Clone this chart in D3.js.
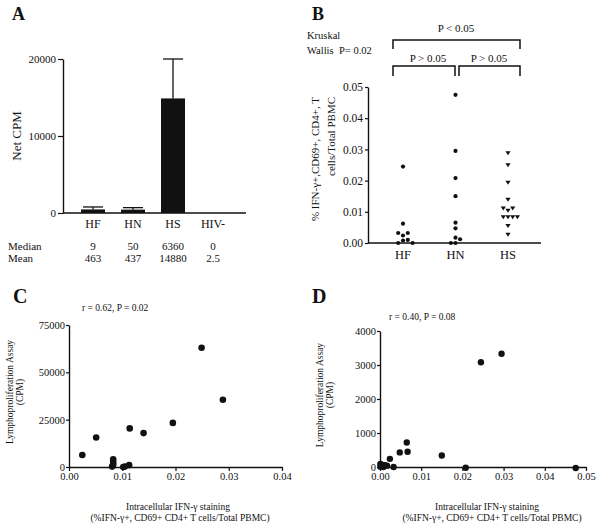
<!DOCTYPE html>
<html><head><meta charset="utf-8">
<script src="https://cdn.jsdelivr.net/npm/d3@7"></script>
<style>
body{margin:0;background:#fff}
svg{display:block}
text{font-family:"Liberation Serif","Times New Roman",serif;fill:#111}
</style>
</head><body>
<svg id="chart" width="598" height="528"></svg>
<script>
// ---------- Panel A data ----------
const aCats = ["HF", "HN", "HS", "HIV-"];
const aMeans = [463, 437, 14880, 2.5];
const aSEM = [320, 260, 5120, 0];
const aMedianLabels = ["9", "50", "6360", "0"];
const aMeanLabels = ["463", "437", "14880", "2.5"];
const aYTicks = [0, 10000, 20000];

// ---------- Panel B data ----------
const bGroups = ["HF", "HN", "HS"];
const bHF = [0.0245, 0.0062, 0.0024, 0.0032, 0.0032, 0.0008, 0.001, 0, 0];
const bHN = [0.0475, 0.0295, 0.0208, 0.015, 0.0065, 0.0047, 0.0017, 0.0012, 0, 0];
const bHS = [0.0288, 0.025, 0.0194, 0.0139, 0.0104, 0.0111, 0.0111, 0.0083, 0.0083, 0.0083, 0.0083, 0.0055, 0.0027];
const bYTicks = [0, 0.01, 0.02, 0.03, 0.04, 0.05];

// ---------- Panel C data ----------
const cIFN = [0.0025, 0.0051, 0.0114, 0.014, 0.0195, 0.0249, 0.0289, 0.0083, 0.0083, 0.0083, 0.0081, 0.0102, 0.0105, 0.0113];
const cCPM = [6300, 15600, 20400, 17900, 23300, 63000, 35500, 4100, 2600, 1300, 200, 0, 300, 1000];
const cXTicks = [0, 0.01, 0.02, 0.03, 0.04];
const cYTicks = [0, 25000, 50000, 75000];

// ---------- Panel D data ----------
const dIFN = [0.0295, 0.0245, 0.0065, 0.0048, 0.0067, 0.0024, 0.0033, 0.015, 0.0208, 0.0475, 0.0001, 0.0001, 0.0006, 0.0009, 0.0012, 0.0017, 0.0008, 0.0003];
const dCPM = [3330, 3080, 720, 430, 450, 240, 0, 340, -20, -30, 90, 10, 60, 20, 50, 40, 0, 30];
const dXTicks = [0, 0.01, 0.02, 0.03, 0.04, 0.05];
const dYTicks = [0, 1000, 2000, 3000, 4000];

const svg = d3.select("#chart");
const INK = "#111";

function styleAxis(g, fs) {
  g.attr("font-family", null).attr("font-size", fs);
  g.select(".domain").attr("stroke", INK).attr("stroke-width", 1.4);
  g.selectAll(".tick line").attr("stroke", INK).attr("stroke-width", 1.2);
  g.selectAll(".tick text").attr("fill", INK);
}
function label(x, y, t, fs, opts = {}) {
  const el = svg.append("text").attr("x", x).attr("y", y).attr("font-size", fs).text(t);
  if (opts.anchor) el.attr("text-anchor", opts.anchor);
  if (opts.bold) el.attr("font-weight", "bold");
  if (opts.rotate) el.attr("transform", `rotate(-90,${x},${y})`);
  return el;
}

// =============== Panel A ===============
label(12, 20, "A", 18, {bold: true});
const xA = d3.scaleBand().domain(aCats).range([73, 233]).paddingInner(0.4).paddingOuter(0.2);
const yA = d3.scaleLinear().domain([0, 20000]).range([213, 59]);
svg.append("g").attr("transform", "translate(63,0)")
  .call(d3.axisLeft(yA).tickValues(aYTicks).tickFormat(d3.format("d")).tickSize(5).tickSizeOuter(0).tickPadding(2))
  .call(g => styleAxis(g, 11));
svg.append("line").attr("x1", 63).attr("x2", 246).attr("y1", yA(0)).attr("y2", yA(0))
  .attr("stroke", INK).attr("stroke-width", 1.4);
const aData = aCats.map((c, i) => ({c, m: aMeans[i], e: aSEM[i]}));
svg.append("g").selectAll("rect").data(aData).join("rect")
  .attr("x", d => xA(d.c)).attr("width", xA.bandwidth())
  .attr("y", d => yA(d.m)).attr("height", d => yA(0) - yA(d.m))
  .attr("fill", INK);
const errG = svg.append("g").attr("stroke", INK).attr("stroke-width", 1.3);
aData.filter(d => d.e > 0).forEach(d => {
  const cx = xA(d.c) + xA.bandwidth() / 2;
  errG.append("line").attr("x1", cx).attr("x2", cx).attr("y1", yA(d.m)).attr("y2", yA(d.m + d.e));
  errG.append("line").attr("x1", cx - 10).attr("x2", cx + 10).attr("y1", yA(d.m + d.e)).attr("y2", yA(d.m + d.e));
});
aCats.forEach((c, i) => {
  const cx = xA(c) + xA.bandwidth() / 2;
  label(cx, 228, c, 12, {anchor: "middle"});
  label(cx, 250, aMedianLabels[i], 11, {anchor: "middle"});
  label(cx, 262, aMeanLabels[i], 11, {anchor: "middle"});
});
label(8, 250, "Median", 11);
label(8, 262, "Mean", 11);
label(21, 136, "Net CPM", 13, {anchor: "middle", rotate: true});

// =============== Panel B ===============
label(312, 20, "B", 18, {bold: true});
const xB = d3.scalePoint().domain(bGroups).range([403, 508]);
const yB = d3.scaleLinear().domain([0, 0.05]).range([243, 87]);
svg.append("g").attr("transform", "translate(368,0)")
  .call(d3.axisLeft(yB).tickValues(bYTicks).tickFormat(d3.format(".2f")).tickSize(3).tickSizeOuter(0).tickPadding(2))
  .call(g => styleAxis(g, 11.5));
svg.append("line").attr("x1", 368).attr("x2", 541).attr("y1", yB(0)).attr("y2", yB(0))
  .attr("stroke", INK).attr("stroke-width", 1.4);
bGroups.forEach(gname => label(xB(gname), 259, gname, 12.5, {anchor: "middle"}));

// dodge layout for dot plot
function dodge(values, cx, step) {
  const placed = [];
  const offs = [0, step, -step, 2 * step, -2 * step, 3 * step, -3 * step];
  values.forEach(v => {
    const y = yB(v);
    for (const o of offs) {
      const x = cx + o;
      if (placed.every(p => Math.hypot(p.x - x, p.y - y) >= step * 0.95)) { placed.push({x, y, v}); break; }
    }
  });
  return placed;
}
const dotsHF = dodge(bHF, xB("HF"), 4.8);
const dotsHN = dodge(bHN, xB("HN"), 4.6);
const dotsHS = dodge(bHS, xB("HS"), 4.7);
svg.append("g").selectAll("circle").data(dotsHF.concat(dotsHN)).join("circle")
  .attr("cx", d => d.x).attr("cy", d => d.y).attr("r", 2.1).attr("fill", INK);
svg.append("g").selectAll("path").data(dotsHS).join("path")
  .attr("d", d => `M${d.x - 2.6},${d.y - 1.8}L${d.x + 2.6},${d.y - 1.8}L${d.x},${d.y + 2.2}Z`)
  .attr("fill", INK);

// brackets
const br = svg.append("g").attr("stroke", INK).attr("stroke-width", 1.5).attr("fill", "none");
br.append("path").attr("d", "M393,49V40H520V49");
br.append("path").attr("d", "M393,76V66H455V76");
br.append("path").attr("d", "M459,76V66H520V76");
label(456, 32, "P < 0.05", 11, {anchor: "middle"});
label(428, 62, "P > 0.05", 11, {anchor: "middle"});
label(489, 62, "P > 0.05", 11, {anchor: "middle"});
label(307, 39, "Kruskal", 10.5);
label(307, 54, "Wallis", 10.5);
label(339, 54, "P= 0.02", 10.5);
label(319, 97, "% IFN-\u03B3+,CD69+, CD4+, T", 11, {anchor: "end", rotate: true});
label(335, 97, "cells/Total PBMC", 11, {anchor: "end", rotate: true});

// =============== Panel C ===============
label(13, 303, "C", 20, {bold: true});
const xC = d3.scaleLinear().domain([0, 0.04]).range([69, 282]);
const yC = d3.scaleLinear().domain([0, 75000]).range([467, 325]);
svg.append("g").attr("transform", "translate(69,0)")
  .call(d3.axisLeft(yC).tickValues(cYTicks).tickFormat(d3.format("d")).tickSize(3).tickSizeOuter(0).tickPadding(1))
  .call(g => styleAxis(g, 10.5));
svg.append("g").attr("transform", `translate(0,${yC(0)})`)
  .call(d3.axisBottom(xC).tickValues(cXTicks).tickFormat(d3.format(".2f")).tickSize(4).tickSizeOuter(0).tickPadding(2))
  .call(g => styleAxis(g, 10.5));
svg.append("g").selectAll("circle").data(cIFN.map((x, i) => [x, cCPM[i]])).join("circle")
  .attr("cx", d => xC(d[0])).attr("cy", d => yC(d[1])).attr("r", 3.3).attr("fill", INK);
label(82, 311, "r = 0.62, P = 0.02", 9.5);
label(178, 510, "Intracellular IFN-\u03B3 staining", 9.5, {anchor: "middle"});
label(180, 521, "(%IFN-\u03B3+, CD69+ CD4+ T cells/Total PBMC)", 9.5, {anchor: "middle"});
label(13, 392, "Lymphoproliferation Assay", 9.5, {anchor: "middle", rotate: true});
label(23, 392, "(CPM)", 9.5, {anchor: "middle", rotate: true});

// =============== Panel D ===============
label(312, 303, "D", 20, {bold: true});
const xD = d3.scaleLinear().domain([0, 0.05]).range([380, 586]);
const yD = d3.scaleLinear().domain([0, 4000]).range([467, 331]);
svg.append("g").attr("transform", "translate(380,0)")
  .call(d3.axisLeft(yD).tickValues(dYTicks).tickFormat(d3.format("d")).tickSize(3).tickSizeOuter(0).tickPadding(1))
  .call(g => styleAxis(g, 10.5));
svg.append("g").attr("transform", `translate(0,${yD(0)})`)
  .call(d3.axisBottom(xD).tickValues(dXTicks).tickFormat(d3.format(".2f")).tickSize(4).tickSizeOuter(0).tickPadding(2))
  .call(g => styleAxis(g, 10.5));
svg.append("g").selectAll("circle").data(dIFN.map((x, i) => [x, dCPM[i]])).join("circle")
  .attr("cx", d => xD(d[0])).attr("cy", d => yD(d[1])).attr("r", 3.2).attr("fill", INK);
label(389, 320, "r = 0.40, P = 0.08", 9.5);
label(487, 510, "Intracellular IFN-\u03B3 staining", 9.5, {anchor: "middle"});
label(492, 521, "(%IFN-\u03B3+, CD69+ CD4+ T cells/Total PBMC)", 9.5, {anchor: "middle"});
label(323, 395, "Lymphoproliferation Assay", 9.5, {anchor: "middle", rotate: true});
label(333, 395, "(CPM)", 9.5, {anchor: "middle", rotate: true});
</script>
</body></html>
